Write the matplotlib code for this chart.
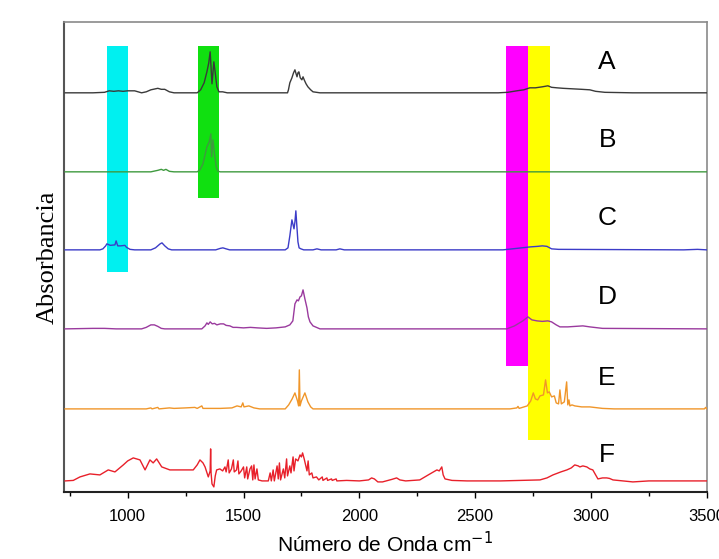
import matplotlib
matplotlib.use("Agg")
import matplotlib.pyplot as plt
from matplotlib.ticker import MultipleLocator

# ---------------- data (wavenumber cm-1, absorbance in arbitrary units) ----------------
names = ["A", "B", "C", "D", "E", "F"]
offsets = [399, 320, 242, 163, 83, 11]
colors = ["#3a3a3a", "#3f9a3f", "#3c3cc8", "#9a3a9e", "#f0962a", "#e8202a"]

A_w = [730, 850, 900, 920, 940, 960, 980, 1000, 1030, 1060, 1080, 1100, 1130, 1145, 1160, 1180, 1200,
       1300, 1315, 1330, 1342, 1350, 1356, 1360, 1364, 1368, 1372, 1378, 1385, 1394, 1410, 1430,
       1600, 1690, 1694, 1700, 1709, 1716, 1722, 1727, 1731, 1735, 1739, 1745, 1752, 1757, 1762,
       1770, 1778, 1790, 1800, 1830, 2600, 2640, 2680, 2710, 2736, 2760, 2790, 2814, 2830, 2853,
       2880, 2920, 2960, 2995, 3020, 3060, 3180, 3500]
A_a = [0, 0, 0.5, 2, 1.5, 2, 1.5, 2, 2, 0, 1, 3, 4.5, 3.5, 3.5, 1, 0,
       0, 3, 10, 21, 30, 41, 25, 9, 20, 31, 20, 6, 1, 1, 0,
       0, 0, 3, 10, 15, 20, 23, 19, 16, 20, 21, 15, 13, 16, 13,
       9, 6, 3, 1, 0, 0, 0.5, 2, 3, 5, 5, 6, 7, 5.5, 5,
       4.5, 4, 3.5, 3, 1.5, 0.5, 0, 0]

B_w = [730, 1100, 1130, 1145, 1155, 1165, 1180, 1200, 1300, 1312, 1325, 1342, 1352, 1359, 1362,
       1364, 1368, 1374, 1382, 1390, 1400, 3500]
B_a = [0, 0, 1.5, 2.5, 1.5, 2.5, 0.5, 0, 0, 2, 8, 25, 30, 38, 15,
       20, 32, 20, 5, 0.5, 0, 0]

C_w = [730, 880, 893, 905, 910, 925, 945, 950, 957, 970, 988, 995, 1010, 1030, 1100, 1120, 1140,
       1148, 1160, 1175, 1190, 1380, 1400, 1411, 1425, 1440, 1680, 1692, 1700, 1709, 1713, 1718,
       1722, 1726, 1730, 1735, 1740, 1748, 1760, 1800, 1817, 1835, 1900, 1916, 1935, 2620, 2660,
       2700, 2740, 2770, 2790, 2810, 2830, 2860, 3400, 3460, 3500]
C_a = [0, 0, 1, 4, 6, 4.5, 5, 9, 4, 4, 4.5, 2.5, 0.5, 0, 0, 2, 6,
       7, 4, 1, 0, 0, 1.5, 2, 1, 0, 0, 2, 14, 30, 26, 21,
       28, 39, 25, 8, 2, 1, 0, 0, 1, 0, 0, 1, 0, 0, 1,
       2, 3, 3.5, 4, 3.5, 1, 0.5, 0, 0.5, 0]

D_w = [730, 850, 900, 950, 1060, 1080, 1100, 1115, 1130, 1145, 1160, 1320, 1334, 1342, 1348, 1356,
       1365, 1375, 1385, 1400, 1414, 1425, 1441, 1455, 1470, 1500, 1530, 1560, 1600, 1640, 1680,
       1700, 1713, 1722, 1731, 1737, 1744, 1750, 1757, 1765, 1774, 1780, 1787, 1800, 1830, 2600,
       2637, 2670, 2706, 2728, 2745, 2767, 2790, 2814, 2830, 2850, 2866, 2900, 2965, 2995, 3050, 3500]
D_a = [0, 0.5, 0.5, 0, 0, 1.5, 4, 4, 2.5, 0.5, 0, 0, 3, 6, 4.5, 7,
       5, 5.5, 4, 5, 5, 3.5, 3, 1.5, 1.5, 1, 1.5, 1, 0.5, 1, 2,
       4, 8, 25, 29, 28, 32, 33, 39, 30, 21, 12, 7, 3, 0, 0,
       0, 3, 8, 12, 9, 8, 7.5, 8, 7, 4, 2, 2, 3, 2, 0.5, 0]

E_w = [730, 1080, 1100, 1105, 1130, 1135, 1180, 1200, 1250, 1290, 1300, 1320, 1325, 1400, 1450,
       1472, 1490, 1497, 1502, 1523, 1545, 1570, 1680, 1695, 1710, 1722, 1733, 1738, 1741, 1744,
       1750, 1765, 1778, 1790, 1800, 2650, 2680, 2685, 2690, 2725, 2740, 2751, 2760, 2770, 2780,
       2795, 2804, 2812, 2820, 2830, 2842, 2850, 2860, 2866, 2872, 2885, 2895, 2900, 2905, 2909,
       2918, 2930, 2960, 2995, 3050, 3100, 3490, 3495, 3500]
E_a = [0, 0, 1, 0, 1.5, 0, 1, 0.5, 1, 1.5, 0.5, 3, 0.5, 0.5, 1,
       3, 2, 6, 2, 3, 1, 0, 0, 4, 10, 16, 8, 3, 39, 3,
       8, 16, 7, 2, 0, 0, 1, 2.5, 0.5, 3, 8, 16, 10, 9, 13,
       14, 29, 16, 17, 12, 13, 6, 5, 19, 5, 7, 27, 4, 9, 3,
       4, 3, 2, 2, 0.5, 0, 0, 1.5, 0]

F_w = [730, 765, 794, 837, 880, 916, 945, 981, 1000, 1024, 1053, 1075, 1096, 1110, 1125, 1147, 1182,
       1226, 1283, 1300, 1312, 1325, 1334, 1348, 1356, 1358, 1360, 1364, 1372, 1378, 1384, 1398,
       1410, 1420, 1425, 1434, 1438, 1448, 1456, 1460, 1470, 1476, 1480, 1490, 1500, 1505, 1514,
       1518, 1528, 1535, 1540, 1545, 1550, 1558, 1564, 1580, 1607, 1615, 1620, 1628, 1633, 1645,
       1650, 1655, 1660, 1672, 1678, 1686, 1690, 1700, 1705, 1714, 1718, 1725, 1735, 1744, 1750,
       1755, 1762, 1770, 1774, 1779, 1784, 1795, 1800, 1815, 1825, 1840, 1843, 1860, 1863, 1880,
       1883, 1900, 1903, 1945, 2000, 2040, 2053, 2065, 2080, 2100, 2140, 2161, 2175, 2200, 2261,
       2290, 2305, 2320, 2335, 2345, 2356, 2362, 2370, 2400, 2465, 2610, 2700, 2780, 2810, 2836,
       2870, 2896, 2915, 2930, 2945, 2952, 2965, 2982, 2995, 3008, 3020, 3030, 3050, 3068, 3080,
       3095, 3140, 3181, 3250, 3327, 3500]
F_a = [0, 0.5, 4, 7, 6, 11, 9, 16, 20, 23, 21, 11, 21, 18, 22, 14, 11,
       11, 11, 16, 21, 18, 14, 4, 10, 32, 8, -3, -6, 5, 11, 12,
       10, 14, 9, 21, 8, 12, 21, 9, 11, 20, 7, 10, 14, 3, 14,
       2, 12, 15, 1, 16, 2, 12, 1, 0, 0, 8, 0, 11, 0, 15,
       2, 18, 1, 12, 3, 22, 5, 15, 8, 24, 10, 22, 20, 26, 24,
       28, 22, 14, 10, 20, 6, 8, 3, 4, 1, 4, 0.5, 3, 0.5, 2,
       0.5, 2, 0, 0.5, 0, 1, 3, 2, -1, -1, 1.5, 3, 1, 0, 1,
       5, 7, 9, 11, 10, 14, 6, 2, 0.5, 0, 0, 0.5, 1, 3, 6,
       9, 11, 13, 16, 15, 14, 15, 14, 12, 11, 6, 2, 3, 3, 2.5,
       1, 0, -1, 0, 0, 0]

spectra_w = [A_w, B_w, C_w, D_w, E_w, F_w]
spectra_a = [A_a, B_a, C_a, D_a, E_a, F_a]

# highlight bands (wavenumber range, vertical extent in plot units)
band_x0 = [910, 1305, 2635, 2730]
band_x1 = [1000, 1395, 2730, 2825]
band_y0 = [220, 294, 126, 52]
band_y1 = [446, 446, 446, 446]
band_colors = ["#00f0f0", "#10e010", "#ff00ff", "#ffff00"]

label_x = 3070
label_y = [430, 352, 274, 195, 114, 37]

xticks = [1000, 1500, 2000, 2500, 3000, 3500]

# ---------------- figure ----------------
fig = plt.figure(figsize=(7.19, 5.59), dpi=100)
ax = fig.add_axes([0.089, 0.12, 0.894, 0.841])

for x0, x1, y0, y1, c in zip(band_x0, band_x1, band_y0, band_y1, band_colors):
    ax.fill_between([x0, x1], [y0, y0], [y1, y1], color=c, lw=0, zorder=1)

for w, a, off, c in zip(spectra_w, spectra_a, offsets, colors):
    ax.plot(w, [v + off for v in a], color=c, lw=1.0, zorder=3)

for n, y in zip(names, label_y):
    ax.text(label_x, y, n, fontsize=19, family="Liberation Sans", ha="center", va="center", zorder=4)

ax.set_xlim(725, 3500)
ax.set_ylim(0, 470)
ax.set_xticks(xticks)
ax.xaxis.set_minor_locator(MultipleLocator(250))
ax.set_yticks([])
ax.tick_params(axis="x", which="major", direction="out", length=4, width=1, labelsize=12, pad=8)
ax.tick_params(axis="x", which="minor", direction="out", length=3, width=1)
for lab in ax.get_xticklabels():
    lab.set_family("Liberation Sans")

for s in ["top", "right"]:
    ax.spines[s].set_color("#8a8a8a")
    ax.spines[s].set_linewidth(1.2)
ax.spines["left"].set_color("#555555")
ax.spines["left"].set_linewidth(1.5)
ax.spines["bottom"].set_color("#222222")
ax.spines["bottom"].set_linewidth(1.5)

ax.set_xlabel("Número de Onda cm$^{-1}$", fontsize=15, family="Liberation Sans", labelpad=5)
ax.set_ylabel("Absorbancia", fontsize=19, family="Liberation Serif", labelpad=4)

fig.savefig("out.png", dpi=100)
